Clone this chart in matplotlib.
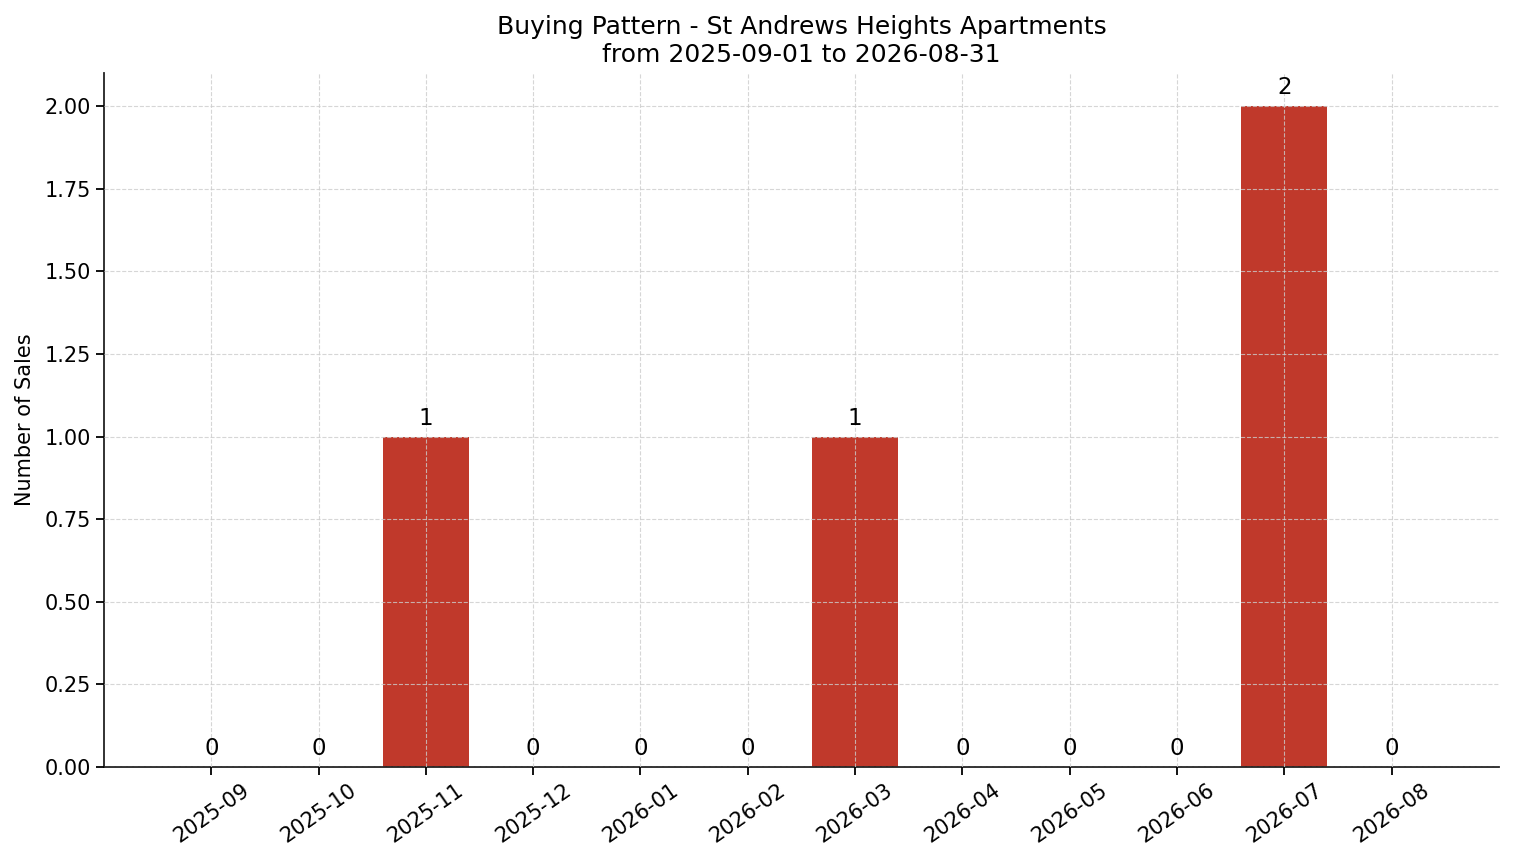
import matplotlib
matplotlib.use("Agg")
import matplotlib.pyplot as plt

# Monthly sales data
months = ['2025-09', '2025-10', '2025-11', '2025-12', '2026-01', '2026-02',
          '2026-03', '2026-04', '2026-05', '2026-06', '2026-07', '2026-08']
sales = [0, 0, 1, 0, 0, 0, 1, 0, 0, 0, 2, 0]

title = "Buying Pattern - St Andrews Heights Apartments\nfrom 2025-09-01 to 2026-08-31"

fig = plt.figure(figsize=(15.14, 8.63), dpi=100)
ax = fig.add_axes([0.0687, 0.1112, 0.9213, 0.8042])

x = list(range(len(months)))
bars = ax.bar(x, sales, width=0.8, color='#c0392b', zorder=1)

for xi, v in zip(x, sales):
    ax.annotate(str(v), (xi, v), xytext=(0, 5), textcoords='offset points',
                ha='center', va='bottom', fontsize=16.5)

ax.set_xticks(x)
ax.set_xticklabels(months, rotation=35, ha='center', fontsize=15)
ax.tick_params(axis='y', labelsize=15)
ax.set_xlim(-1, 12)
ax.set_ylim(0, 2.1)
ax.set_yticks([0, 0.25, 0.5, 0.75, 1.0, 1.25, 1.5, 1.75, 2.0])
ax.yaxis.set_major_formatter(matplotlib.ticker.FormatStrFormatter('%.2f'))

ax.set_ylabel('Number of Sales', fontsize=15, labelpad=7)
ax.set_title(title, fontsize=18, pad=8)

ax.grid(True, linestyle='--', color='#cccccc', alpha=0.8, linewidth=0.8, zorder=2)
ax.set_axisbelow(False)
ax.spines['top'].set_visible(False)
ax.spines['right'].set_visible(False)
for s in ('left', 'bottom'):
    ax.spines[s].set_linewidth(1.3)
    ax.spines[s].set_color('#222222')
ax.tick_params(width=1.3, length=6)

fig.savefig('out.png', dpi=100)
